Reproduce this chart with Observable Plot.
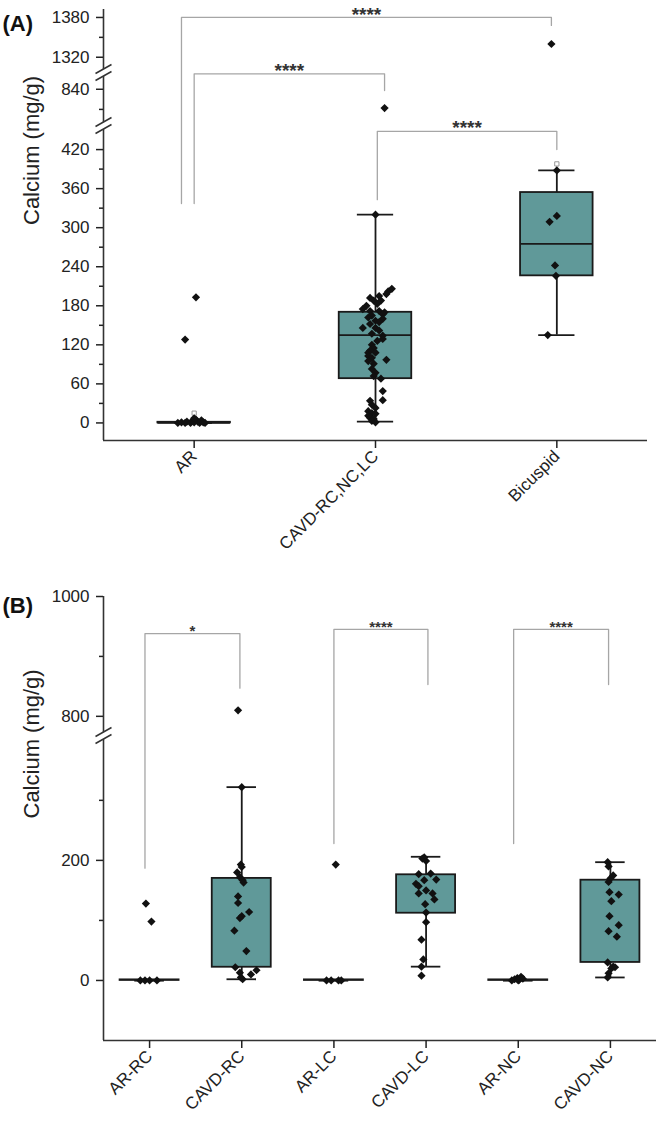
<!DOCTYPE html>
<html><head><meta charset="utf-8">
<script src="https://cdn.jsdelivr.net/npm/d3@7"></script>
<script src="https://cdn.jsdelivr.net/npm/@observablehq/plot@0.6"></script>
<style>
body{margin:0;background:#fff;font-family:"Liberation Sans",Arial,sans-serif;}
#chart{width:661px;}
#chart svg{display:block;}
</style></head><body><div id="chart"></div>
<script>
// ---------- Panel A data ----------
const catsA = ["AR", "CAVD-RC,NC,LC", "Bicuspid"];
const q1A = [0, 68, 226];
const medA = [0, 135, 275];
const q3A = [1, 170, 354];
const whiskLoA = [0, 2, 135];
const whiskHiA = [0, 320, 388];
const meanA = [15, null, 398];
// [value, jitter (category units)]
const ptsA_AR = [[0,-0.09],[1,-0.07],[0,-0.05],[2,-0.04],[0,-0.02],[3,-0.01],[1,0.0],[5,0.01],[2,0.02],[0,0.03],[4,0.04],[7,0.0],[1,0.05],[0,0.06],[128,-0.05],[193,0.01]];
const ptsA_CAVD = [[320,0],[206,0.09],[202,0.07],[198,0.06],[195,0.02],[192,-0.03],[188,-0.01],[188,0.03],[183,0.01],[180,-0.05],[175,-0.07],[172,-0.03],[172,0.02],[170,0.05],[165,-0.02],[167,0.04],[162,-0.04],[157,0],[160,0.04],[155,0.02],[152,-0.03],[146,-0.07],[146,0],[142,0.02],[137,-0.02],[134,0.04],[129,0.04],[126,0.01],[120,-0.02],[115,-0.01],[111,-0.03],[108,-0.04],[108,0],[103,-0.04],[100,-0.02],[97,0.06],[95,-0.04],[91,-0.01],[83,-0.02],[77,0],[72,-0.01],[68,0.03],[49,0.04],[35,0.04],[34,-0.03],[28,-0.02],[23,0],[18,-0.04],[15,-0.02],[14,0],[11,-0.04],[8,-0.03],[6,-0.01],[3,-0.02],[1,0],[812,0.05]];
const ptsA_BIC = [[388,0],[318,0],[309,-0.04],[242,-0.01],[226,-0.005],[135,-0.05],[1340,-0.03]];
// [x1, x2, top, left end, right end, label]
const bracketsA = [[-0.07,1.97,1380,337,1368,"****"],[0,1.05,863,337,838,"****"],[1.01,2.0,448,343,420,"****"]];
const yDomainA = [-27, 457, 786, 865, 1297, 1392];
const ticksA = [0,60,120,180,240,300,360,420,840,1320,1380];
const minorA = [30,90,150,210,270,330,390,810,1350];
const breaksA = [1297, 786];

// ---------- Panel B data ----------
const catsB = ["AR-RC", "CAVD-RC", "AR-LC", "CAVD-LC", "AR-NC", "CAVD-NC"];
const q1B = [0, 22, 0, 112, 0, 30];
const medB = [null, null, null, null, null, null];
const q3B = [1, 170, 1, 176, 1, 167];
const whiskLoB = [0, 2, 0, 23, 0, 5];
const whiskHiB = [0, 322, 0, 206, 0, 197];
const meanB = [null, null, null, null, null, null];
const ptsB_ARRC = [[0,-0.1],[0,-0.05],[0,0],[0,0.08],[128,-0.04],[98,0.02]];
const ptsB_CAVDRC = [[322,0],[193,-0.01],[189,0],[180,-0.05],[172,-0.02],[167,0.01],[163,0.02],[140,-0.04],[129,-0.04],[114,0.08],[107,0],[104,-0.02],[83,-0.08],[49,0.05],[22,-0.07],[13,-0.02],[17,0.16],[10,0.1],[2,0.01],[5,-0.01],[810,-0.04]];
const ptsB_ARLC = [[0,-0.08],[0,-0.03],[0,0.05],[0,0.08],[193,0.02]];
const ptsB_CAVDLC = [[205,-0.02],[203,-0.04],[199,0],[177,-0.08],[178,0.05],[167,-0.02],[168,0.11],[161,-0.11],[157,-0.08],[150,0],[145,-0.08],[145,0.07],[135,0.09],[127,-0.01],[113,0],[97,0],[68,-0.05],[35,-0.03],[23,-0.05],[8,-0.05]];
const ptsB_ARNC = [[0,-0.07],[2,-0.04],[4,-0.01],[1,0.01],[6,0.03],[3,0.05],[0,0]];
const ptsB_CAVDNC = [[197,-0.03],[190,-0.02],[175,0.03],[170,0],[164,-0.02],[147,-0.01],[143,0.09],[132,0.01],[107,-0.01],[92,0.09],[82,-0.02],[73,0.07],[30,-0.03],[23,0.03],[20,0.01],[22,0.05],[12,-0.02],[5,-0.03]];
const bracketsB = [[-0.05,0.98,938,187,847,"*"],[2.0,3.02,945,228,853,"****"],[3.95,4.98,945,228,853,"****"]];
const yDomainB = [-100, 408, 768, 1000];
const ticksB = [0, 200, 800, 1000];
const minorB = [100, 300, 900];
const breaksB = [768];

const TEAL = "#609999";
const breakFill = {draw(ctx, size){const k=Math.sqrt(size/Math.PI);ctx.moveTo(-8*k,1*k);ctx.lineTo(8*k,-8*k);ctx.lineTo(8*k,-1*k);ctx.lineTo(-8*k,8*k);ctx.closePath();}};
const breakLines = {draw(ctx, size){const k=Math.sqrt(size/Math.PI);ctx.moveTo(-8*k,1*k);ctx.lineTo(8*k,-8*k);ctx.moveTo(-8*k,8*k);ctx.lineTo(8*k,-1*k);}};

function panel(o) {
  const idx = o.cats.map((_, i) => i);
  const boxes = idx.map(i => ({i, q1: o.q1[i], med: o.med[i], q3: o.q3[i], lo: o.lo[i], hi: o.hi[i], mean: o.means[i]}));
  const pts = o.points.flatMap((arr, g) => arr.map(([v, j]) => ({x: g + j, v})));
  const brPath = o.brackets.flatMap((b, k) => [
    {k, x: b[0], y: b[3]}, {k, x: b[0], y: b[2]}, {k, x: b[1], y: b[2]}, {k, x: b[1], y: b[4]}]);
  return Plot.plot({
    width: 661, height: o.height,
    marginLeft: 103, marginRight: o.marginRight, marginTop: o.marginTop, marginBottom: o.marginBottom,
    style: {fontFamily: '"Liberation Sans", Arial, sans-serif', fontSize: "17px", color: "#222", background: "white"},
    x: {type: "linear", domain: [-0.5, o.cats.length - 0.5]},
    y: {type: "linear", domain: o.yDomain, range: o.yRange},
    marks: [
      Plot.line(brPath, {x: "x", y: "y", z: "k", stroke: "#a6a6a6", strokeWidth: 1.3}),
      Plot.text(o.brackets, {x: b => (b[0] + b[1]) / 2, y: b => b[2], text: b => b[5], fontSize: o.starSize, fontWeight: "bold", dy: o.starDy, fill: "#333"}),
      Plot.ruleX(boxes, {x: "i", y1: "lo", y2: "hi", stroke: "#1a1a1a", strokeWidth: 1.8}),
      Plot.ruleY(boxes, {x1: d => d.i - o.capHalf, x2: d => d.i + o.capHalf, y: "lo", stroke: "#1a1a1a", strokeWidth: 1.8}),
      Plot.ruleY(boxes, {x1: d => d.i - o.capHalf, x2: d => d.i + o.capHalf, y: "hi", stroke: "#1a1a1a", strokeWidth: 1.8}),
      Plot.rect(boxes, {x1: d => d.i - o.boxHalf, x2: d => d.i + o.boxHalf, y1: "q1", y2: "q3", fill: TEAL, stroke: "#1a1a1a", strokeWidth: 1.8}),
      Plot.ruleY(boxes.filter(d => d.med != null), {x1: d => d.i - o.boxHalf, x2: d => d.i + o.boxHalf, y: "med", stroke: "#1a1a1a", strokeWidth: 1.8}),
      Plot.dot(boxes.filter(d => d.mean != null), {x: "i", y: "mean", symbol: "square", r: 2.4, fill: "white", stroke: "#999", strokeWidth: 1}),
      Plot.dot(pts, {x: "x", y: "v", symbol: "diamond2", r: 3.7, fill: "#111"}),
      Plot.ruleX([-0.5], {stroke: "#333", strokeWidth: 1.6}),
      Plot.ruleY([o.yDomain[0]], {stroke: "#333", strokeWidth: 1.6}),
      Plot.dot(o.breaks, {frameAnchor: "left", y: d => d, symbol: breakFill, r: 1, fill: "white", stroke: "none"}),
      Plot.dot(o.breaks, {frameAnchor: "left", y: d => d, symbol: breakLines, r: 1, fill: "none", stroke: "#333", strokeWidth: 1.5}),
      Plot.axisY({ticks: o.ticks, tickSize: 7, tickPadding: 7, tickFormat: d => String(d), strokeWidth: 1.5, fontSize: 17, label: null}),
      Plot.axisY({ticks: o.minor, tickSize: 4, tickFormat: () => "", strokeWidth: 1.5, label: null}),
      Plot.axisX({ticks: idx, tickFormat: i => o.cats[i], tickRotate: -45, tickSize: 8, tickPadding: 5, strokeWidth: 1.5, fontSize: 17, label: null}),
      Plot.text(["Calcium (mg/g)"], {frameAnchor: "left", text: d => d, rotate: -90, dx: -72, fontSize: 22, fill: "#222"}),
      Plot.text([o.tag], {frameAnchor: "top-left", text: d => d, dx: -101, dy: o.tagDy, textAnchor: "start", fontWeight: "bold", fontSize: 22, fill: "#111"})
    ]
  });
}

const chart = document.getElementById("chart");
chart.append(panel({
  cats: catsA, q1: q1A, med: medA, q3: q3A, lo: whiskLoA, hi: whiskHiA, means: meanA,
  points: [ptsA_AR, ptsA_CAVD, ptsA_BIC], brackets: bracketsA,
  yDomain: yDomainA, yRange: [440, 125, 125, 72, 72, 9], ticks: ticksA, minor: minorA, breaks: breaksA,
  boxHalf: 0.2, capHalf: 0.1, height: 560, marginTop: 9, marginBottom: 120, marginRight: 14,
  starSize: 19, starDy: -3, tag: "(A)", tagDy: 6
}));
chart.append(panel({
  cats: catsB, q1: q1B, med: medB, q3: q3B, lo: whiskLoB, hi: whiskHiB, means: meanB,
  points: [ptsB_ARRC, ptsB_CAVDRC, ptsB_ARLC, ptsB_CAVDLC, ptsB_ARNC, ptsB_CAVDNC], brackets: bracketsB,
  yDomain: yDomainB, yRange: [480, 175, 175, 36], ticks: ticksB, minor: minorB, breaks: breaksB,
  boxHalf: 0.32, capHalf: 0.16, height: 571, marginTop: 36, marginBottom: 91, marginRight: 5,
  starSize: 15, starDy: -2, tag: "(B)", tagDy: 1
}));
</script></body></html>
